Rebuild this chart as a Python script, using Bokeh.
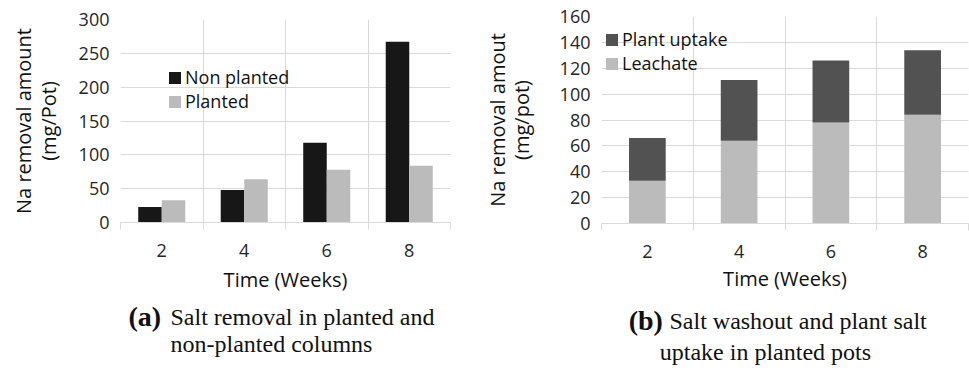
from bokeh.plotting import figure
from bokeh.models import (ColumnDataSource, Range1d, FixedTicker, SingleIntervalTicker,
                          LinearAxis, Legend, LegendItem, Label)
from bokeh.layouts import row, column
from bokeh.transform import dodge
from bokeh.embed import file_html
from bokeh.resources import INLINE

# ---------------- data ----------------
weeks = [2, 4, 6, 8]
week_labels = ["2", "4", "6", "8"]
week_bounds = [1, 3, 5, 7, 9]

non_planted = [23, 48, 118, 267]
planted = [33, 64, 78, 84]

leachate = [33, 64, 78, 84]
plant_uptake = [33, 47, 48, 50]

SANS = "Open Sans"
SERIF = "Liberation Serif"
GRID = "#d9d9d9"
TXT = "#262626"


def style(p, ytitle_outer, ytitle_inner, yint, inner_standoff, outer_standoff, x_title_standoff):
    p.outline_line_color = None
    p.background_fill_color = "white"
    p.border_fill_color = "white"
    # x axis with category-boundary tick marks
    xa = p.xaxis[0]
    xa.ticker = FixedTicker(ticks=weeks, minor_ticks=week_bounds)
    xa.major_label_overrides = {w: l for w, l in zip(weeks, week_labels)}
    xa.major_tick_out = 0
    xa.major_tick_in = 0
    xa.minor_tick_in = 0
    xa.minor_tick_out = 7
    xa.minor_tick_line_color = GRID
    xa.axis_line_color = GRID
    xa.major_label_text_font = SANS
    xa.major_label_text_font_size = "18px"
    xa.major_label_text_color = TXT
    xa.major_label_standoff = 14
    xa.axis_label = "Time (Weeks)"
    xa.axis_label_text_font = SANS
    xa.axis_label_text_font_size = "20px"
    xa.axis_label_text_font_style = "normal"
    xa.axis_label_text_color = "#111111"
    xa.axis_label_standoff = x_title_standoff
    # y axis
    ya = p.yaxis[0]
    ya.ticker = SingleIntervalTicker(interval=yint)
    ya.axis_line_color = None
    ya.major_tick_out = 0
    ya.major_tick_in = 0
    ya.minor_tick_out = 0
    ya.minor_tick_in = 0
    ya.major_label_text_font = SANS
    ya.major_label_text_font_size = "18px"
    ya.major_label_text_color = TXT
    ya.major_label_standoff = 11
    ya.axis_label = ytitle_inner
    ya.axis_label_text_font = SANS
    ya.axis_label_text_font_size = "20px"
    ya.axis_label_text_font_style = "normal"
    ya.axis_label_text_color = "#111111"
    ya.axis_label_standoff = inner_standoff
    outer = LinearAxis(axis_label=ytitle_outer, axis_line_color=None,
                       major_tick_out=0, major_tick_in=0, minor_tick_out=0, minor_tick_in=0,
                       major_label_text_font_size="0px", major_label_text_color=None,
                       major_label_standoff=0,
                       axis_label_text_font=SANS, axis_label_text_font_size="20px",
                       axis_label_text_font_style="normal", axis_label_text_color="#111111",
                       axis_label_standoff=outer_standoff)
    outer.ticker = FixedTicker(ticks=[])
    p.add_layout(outer, "left")
    # grids
    p.xgrid.ticker = FixedTicker(ticks=week_bounds)
    p.xgrid.grid_line_color = GRID
    p.ygrid.ticker = SingleIntervalTicker(interval=yint)
    p.ygrid.grid_line_color = GRID
    p.toolbar.logo = None


# ---------------- panel (a) ----------------
src_a = ColumnDataSource(dict(weeks=weeks, non_planted=non_planted, planted=planted))
pa = figure(width=480, height=295, x_range=Range1d(1, 9), y_range=Range1d(0, 300),
            output_backend="svg", toolbar_location=None,
            min_border_left=120, min_border_right=30, min_border_top=19, min_border_bottom=71)
r1 = pa.vbar(x=dodge("weeks", -0.285), top="non_planted", width=0.57, source=src_a,
             fill_color="#171717", line_color=None)
r2 = pa.vbar(x=dodge("weeks", 0.285), top="planted", width=0.57, source=src_a,
             fill_color="#bbbbbb", line_color=None)
style(pa, "Na removal amount", "(mg/Pot)", 50, 14, -5, 6)
leg_a = Legend(items=[LegendItem(label="Non planted", renderers=[r1]),
                      LegendItem(label="Planted", renderers=[r2])],
               location=(47, 109), orientation="vertical",
               glyph_width=15, glyph_height=15, label_standoff=3, spacing=0,
               padding=0, margin=0, border_line_color=None, background_fill_alpha=0,
               label_text_font=SANS, label_text_font_size="18px", label_text_color="#111111")
pa.add_layout(leg_a, "center")

# ---------------- panel (b) ----------------
src_b = ColumnDataSource(dict(weeks=weeks, leachate=leachate, plant_uptake=plant_uptake))
pb = figure(width=489, height=295, x_range=Range1d(1, 9), y_range=Range1d(0, 160),
            output_backend="svg", toolbar_location=None,
            min_border_left=110, min_border_right=1, min_border_top=16, min_border_bottom=72)
rs = pb.vbar_stack(["leachate", "plant_uptake"], x="weeks", width=0.8, source=src_b,
                   fill_color=["#bbbbbb", "#525252"], line_color=None)
style(pb, "Na removal amout", "(mg/pot)", 20, 22, -6, 4)
leg_b = Legend(items=[LegendItem(label="Plant uptake", renderers=[rs[1]]),
                      LegendItem(label="Leachate", renderers=[rs[0]])],
               location=(3, 148), orientation="vertical",
               glyph_width=15, glyph_height=15, label_standoff=3, spacing=0,
               padding=0, margin=0, border_line_color=None, background_fill_alpha=0,
               label_text_font=SANS, label_text_font_size="18px", label_text_color="#111111")
pb.add_layout(leg_b, "center")


# ---------------- captions ----------------
# caption frames line up with the chart frames above; x coordinates are canvas pixels
def caption(width, left, right, tag, line1, line2, tag_x, l1_x, l2_x, y1, y2):
    c = figure(width=width, height=73, x_range=Range1d(left, width - right),
               y_range=Range1d(73, 0), title_location=None,
               x_axis_location=None, y_axis_location=None,
               output_backend="svg", toolbar_location=None,
               min_border_left=left, min_border_right=right, min_border_top=0, min_border_bottom=0)
    c.grid.visible = False
    c.outline_line_color = None
    c.add_layout(Label(x=tag_x, y=y1, text=tag, text_font=SERIF, text_font_size="28px",
                       text_font_style="bold", text_baseline="alphabetic", text_color="#111111"))
    c.add_layout(Label(x=l1_x, y=y1, text=line1, text_font=SERIF, text_font_size="24px",
                       text_baseline="alphabetic", text_color="#111111"))
    c.add_layout(Label(x=l2_x, y=y2, text=line2, text_font=SERIF, text_font_size="24px",
                       text_baseline="alphabetic", text_color="#111111"))
    return c


ca = caption(480, 120, 30, "(a)", "Salt removal in planted and", "non-planted columns",
             128, 170, 170, 21, 48)
cb = caption(489, 110, 1, "(b)", "Salt washout and plant salt", "uptake in planted  pots",
             138, 180, 170, 25, 56)

layout = row(column(pa, ca, spacing=0), column(pb, cb, spacing=0), spacing=0)
open("out.html", "w").write(file_html(layout, INLINE))
